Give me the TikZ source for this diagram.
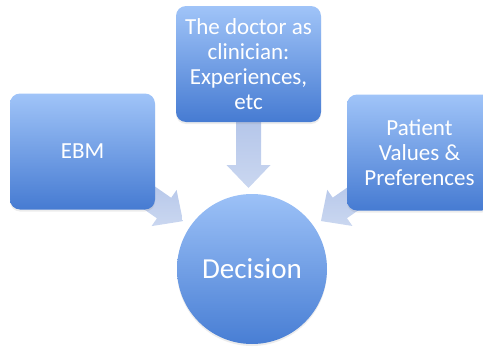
\documentclass[tikz,border=0pt]{standalone}
\usepackage{fontspec}
\setmainfont{Carlito}
\usetikzlibrary{calc,shadows,backgrounds}
\definecolor{boxtop}{RGB}{160,196,248}
\definecolor{boxbot}{RGB}{70,123,210}
\definecolor{circtop}{RGB}{156,193,247}
\definecolor{circbot}{RGB}{72,126,212}
\definecolor{arrtop}{RGB}{163,184,228}
\definecolor{arrbot}{RGB}{202,215,240}
\tikzset{
  blockbox/.style={rounded corners=10pt, minimum width=145pt, minimum height=116pt,
    inner sep=0pt, top color=boxtop, bottom color=boxbot, text=white, align=center,
    font=\fontsize{23}{25}\selectfont,
    drop shadow={opacity=0.15, shadow xshift=0pt, shadow yshift=-2pt}},
  decisionnode/.style={circle, minimum size=150pt, inner sep=0pt, top color=circtop,
    bottom color=circbot, text=white, font=\fontsize{29}{32}\selectfont,
    drop shadow={opacity=0.15, shadow xshift=0pt, shadow yshift=-2pt}},
  bigarrow/.style={top color=arrtop, bottom color=arrbot, draw=none}
}
\newcommand{\blockarr}[2]{%
  \path ($(#2)!23pt!(#1)$) coordinate (h);
  \path[bigarrow] ($(#1)!12.5pt!90:(#2)$) -- ($(h)!12.5pt!-90:(#1)$) -- ($(h)!22pt!-90:(#1)$)
    -- (#2) -- ($(h)!22pt!90:(#1)$) -- ($(h)!12.5pt!90:(#1)$) -- ($(#1)!12.5pt!-90:(#2)$) -- cycle;}
\begin{document}
\begin{tikzpicture}[x=1pt,y=-1pt]
\useasboundingbox (0,0) rectangle (483,348);
\node[blockbox] (ebm) at (82.5,151.5) {EBM};
\node[blockbox] (doc) at (248.5,64) {The doctor as\\clinician:\\Experiences,\\etc};
\node[blockbox] (pat) at (419.5,152.5) {Patient\\Values \&\\Preferences};
\node[decisionnode] (dec) at (252,269) {Decision};
\coordinate (ltip) at ($(dec.center)!84pt!(ebm.center)$);
\coordinate (rtip) at ($(dec.center)!84pt!(pat.center)$);
\coordinate (dtip) at ($(doc.center)+(0,124)$);
\begin{scope}[on background layer]
  \blockarr{ebm.center}{ltip}
  \blockarr{doc.center}{dtip}
  \blockarr{pat.center}{rtip}
\end{scope}
\end{tikzpicture}
\end{document}
